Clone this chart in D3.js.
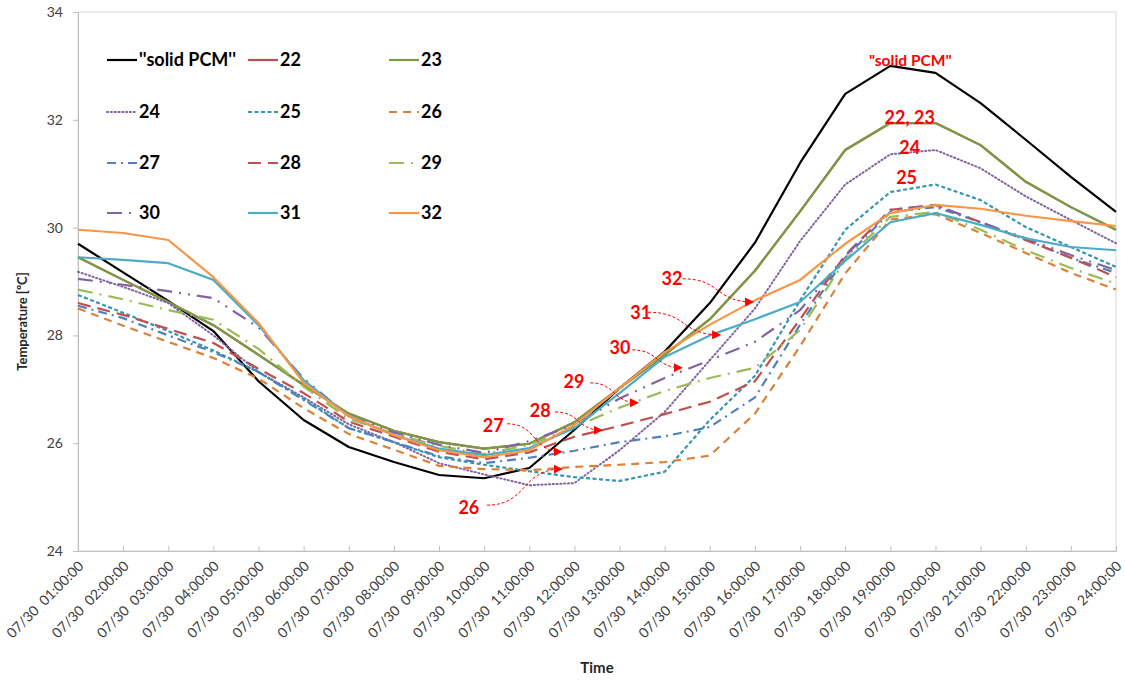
<!DOCTYPE html>
<html>
<head>
<meta charset="utf-8">
<script src="https://cdn.jsdelivr.net/npm/d3@7"></script>
<style>
  html, body { margin: 0; padding: 0; background: #fff; }
  svg { display: block; font-family: Lato, "Open Sans", sans-serif; }
</style>
</head>
<body>
<svg id="chart" width="1125" height="681"></svg>
<script>
// Hourly time stamps on 30 July
const hours = ["01:00:00","02:00:00","03:00:00","04:00:00","05:00:00","06:00:00",
  "07:00:00","08:00:00","09:00:00","10:00:00","11:00:00","12:00:00",
  "13:00:00","14:00:00","15:00:00","16:00:00","17:00:00","18:00:00",
  "19:00:00","20:00:00","21:00:00","22:00:00","23:00:00","24:00:00"];
const dateLabel = "07/30";
const yTicks = [24, 26, 28, 30, 32, 34];

// Temperatures [°C] per case
const solidPCM = [29.70, 29.17, 28.64, 28.08, 27.15, 26.43, 25.93, 25.65, 25.41, 25.35, 25.54, 26.25,
                  27.02, 27.70, 28.60, 29.72, 31.20, 32.48, 33.00, 32.87, 32.31, 31.63, 30.94, 30.29];
const t22 = [29.45, 29.03, 28.62, 28.19, 27.64, 27.08, 26.55, 26.23, 26.02, 25.90, 25.99, 26.39,
             27.02, 27.64, 28.30, 29.20, 30.30, 31.44, 31.94, 31.94, 31.53, 30.85, 30.38, 29.96];
const t23 = [29.45, 29.03, 28.62, 28.19, 27.64, 27.08, 26.55, 26.23, 26.02, 25.90, 25.99, 26.39,
             27.02, 27.64, 28.30, 29.20, 30.30, 31.44, 31.94, 31.94, 31.53, 30.85, 30.38, 29.96];
const t24 = [29.18, 28.90, 28.60, 28.00, 27.32, 26.85, 26.35, 26.02, 25.63, 25.42, 25.22, 25.26,
             25.87, 26.58, 27.54, 28.50, 29.75, 30.80, 31.36, 31.44, 31.10, 30.58, 30.14, 29.71];
const t25 = [28.75, 28.42, 28.08, 27.72, 27.32, 26.82, 26.28, 26.02, 25.74, 25.60, 25.48, 25.37,
             25.30, 25.47, 26.43, 27.25, 28.65, 29.96, 30.66, 30.80, 30.51, 30.01, 29.64, 29.27];
const t26 = [28.50, 28.18, 27.88, 27.58, 27.20, 26.65, 26.17, 25.88, 25.58, 25.52, 25.50, 25.56,
             25.60, 25.65, 25.77, 26.55, 27.80, 29.15, 30.15, 30.25, 29.90, 29.53, 29.16, 28.85];
const t27 = [28.55, 28.32, 28.00, 27.69, 27.32, 26.80, 26.28, 26.02, 25.76, 25.63, 25.73, 25.86,
             26.02, 26.13, 26.30, 26.85, 28.20, 29.44, 30.29, 30.38, 30.10, 29.77, 29.44, 29.16];
const t28 = [28.60, 28.38, 28.12, 27.86, 27.38, 26.93, 26.40, 26.12, 25.84, 25.70, 25.83, 26.12,
             26.32, 26.54, 26.77, 27.15, 28.30, 29.49, 30.33, 30.42, 30.10, 29.77, 29.44, 29.08];
const t29 = [28.85, 28.67, 28.47, 28.29, 27.75, 27.05, 26.45, 26.18, 25.95, 25.80, 25.97, 26.30,
             26.66, 26.97, 27.21, 27.40, 28.10, 29.40, 30.20, 30.29, 29.96, 29.58, 29.25, 28.96];
const t30 = [29.05, 28.94, 28.82, 28.69, 28.15, 27.20, 26.50, 26.20, 25.97, 25.82, 26.04, 26.34,
             26.83, 27.21, 27.54, 27.88, 28.47, 29.47, 30.33, 30.42, 30.10, 29.80, 29.49, 29.21];
const t31 = [29.45, 29.40, 29.34, 29.03, 28.19, 27.17, 26.50, 26.15, 25.90, 25.78, 25.91, 26.28,
             26.93, 27.60, 28.00, 28.30, 28.62, 29.38, 30.10, 30.27, 30.05, 29.80, 29.64, 29.58];
const t32 = [29.96, 29.90, 29.77, 29.08, 28.23, 27.12, 26.50, 26.15, 25.87, 25.74, 25.87, 26.34,
             27.02, 27.69, 28.20, 28.65, 29.03, 29.70, 30.27, 30.42, 30.35, 30.22, 30.12, 30.03];

// Series styling (drawing order = legend order)
const series = [
  { name: "''solid PCM''", values: solidPCM, color: "#000000", dash: null },
  { name: "22", values: t22, color: "#B8504B", dash: null },
  { name: "23", values: t23, color: "#7A9A44", dash: null },
  { name: "24", values: t24, color: "#8064A2", dash: "1.2,2.6", cap: "round" },
  { name: "25", values: t25, color: "#3596B0", dash: "4,2.5" },
  { name: "26", values: t26, color: "#DB8238", dash: "8,6" },
  { name: "27", values: t27, color: "#4F81BD", dash: "9,5,2,5" },
  { name: "28", values: t28, color: "#C0504D", dash: "13,7" },
  { name: "29", values: t29, color: "#9BBB59", dash: "15,7,2,7" },
  { name: "30", values: t30, color: "#8064A2", dash: "15,7,2,7,2,7" },
  { name: "31", values: t31, color: "#4BACC6", dash: null },
  { name: "32", values: t32, color: "#F79646", dash: null }
];

// Annotation labels and pointer arrows (x = hour index, y = temperature)
const peakLabels = [
  { text: "\"solid PCM\"", x: 18.44, y: 33.11, size: 15.5 },
  { text: "22, 23", x: 18.43, y: 32.05, size: 18 },
  { text: "24", x: 18.43, y: 31.49, size: 18 },
  { text: "25", x: 18.36, y: 30.92, size: 18 }
];
const pointerLabels = [
  { text: "32", x: 13.16, y: 29.06, from: [13.40, 29.05], to: [14.96, 28.62] },
  { text: "31", x: 12.47, y: 28.43, from: [12.63, 28.43], to: [14.23, 28.01] },
  { text: "30", x: 12.01, y: 27.78, from: [12.28, 27.73], to: [13.38, 27.40] },
  { text: "29", x: 10.99, y: 27.14, from: [11.35, 27.12], to: [12.41, 26.75] },
  { text: "28", x: 10.24, y: 26.60, from: [10.57, 26.58], to: [11.61, 26.24] },
  { text: "27", x: 9.20,  y: 26.32, from: [9.51, 26.36],  to: [10.72, 25.84] },
  { text: "26", x: 8.66,  y: 24.80, from: [9.06, 24.85],  to: [10.72, 25.52] }
];

const svg = d3.select("#chart");
const plot = { left: 78, right: 1116, top: 12, bottom: 551 };

const x = d3.scalePoint().domain(hours).range([plot.left, plot.right]).padding(0);
const xi = d3.scaleLinear().domain([0, hours.length - 1]).range([plot.left, plot.right]);
const y = d3.scaleLinear().domain([24, 34]).range([plot.bottom, plot.top]);

// Plot-area frame
svg.append("rect")
  .attr("x", plot.left).attr("y", plot.top)
  .attr("width", plot.right - plot.left).attr("height", plot.bottom - plot.top)
  .attr("fill", "none").attr("stroke", "#D9D9D9").attr("stroke-width", 1);

// Y axis
const yAxis = svg.append("g")
  .attr("transform", `translate(${plot.left},0)`)
  .call(d3.axisLeft(y).tickValues(yTicks).tickSize(5).tickPadding(10).tickFormat(d3.format("d")));
yAxis.select(".domain").attr("stroke", "#BFBFBF");
yAxis.selectAll(".tick line").attr("stroke", "#BFBFBF");
yAxis.selectAll(".tick text").attr("fill", "#404040")
  .style("font-size", "14px").style("font-family", "Lato, sans-serif");

// X axis with inward ticks and slanted labels
const xAxis = svg.append("g")
  .attr("transform", `translate(0,${plot.bottom})`)
  .call(d3.axisBottom(x).tickSize(-5).tickFormat(d => `${dateLabel}  ${d}`));
xAxis.select(".domain").attr("stroke", "#BFBFBF");
xAxis.selectAll(".tick line").attr("stroke", "#BFBFBF");
xAxis.selectAll(".tick text")
  .attr("fill", "#404040")
  .style("font-size", "14px").style("font-family", "Lato, sans-serif")
  .style("white-space", "pre")
  .attr("text-anchor", "end")
  .attr("dy", null)
  .attr("y", 0)
  .attr("transform", "translate(6,16) rotate(-45)");

// Axis titles
svg.append("text")
  .attr("x", (plot.left + plot.right) / 2).attr("y", 673)
  .attr("text-anchor", "middle")
  .style("font-size", "15px").style("font-weight", "bold").attr("fill", "#262626")
  .text("Time");
svg.append("text")
  .attr("transform", `translate(27,${(plot.top + plot.bottom) / 2 + 40}) rotate(-90)`)
  .attr("text-anchor", "middle")
  .style("font-size", "13px").style("font-weight", "bold").attr("fill", "#262626")
  .text("Temperature [ºC]");

// Series lines
const line = d3.line().x((d, i) => x(hours[i])).y(d => y(d));
svg.append("g").selectAll("path")
  .data(series)
  .join("path")
  .attr("d", s => line(s.values))
  .attr("fill", "none")
  .attr("stroke", s => s.color)
  .attr("stroke-width", s => s.cap === "round" ? 2 : 2.2)
  .attr("stroke-linecap", s => s.cap || "butt")
  .attr("stroke-linejoin", "round")
  .attr("stroke-dasharray", s => s.dash);

// Legend: 3 columns x 4 rows inside the plot area
const legendCols = [107, 248, 389];
const legendRows = [60, 112, 163, 213];
const legend = svg.append("g").selectAll("g")
  .data(series)
  .join("g")
  .attr("transform", (s, i) => `translate(${legendCols[i % 3]},${legendRows[Math.floor(i / 3)]})`);
legend.append("line")
  .attr("x1", 0).attr("x2", 30).attr("y1", 0).attr("y2", 0)
  .attr("stroke", s => s.color)
  .attr("stroke-width", s => s.cap === "round" ? 2 : 2.2)
  .attr("stroke-linecap", s => s.cap || "butt")
  .attr("stroke-dasharray", s => s.dash);
legend.append("text")
  .attr("x", 32).attr("y", 0).attr("dy", "0.36em")
  .style("font-size", "18px").style("font-weight", "bold").attr("fill", "#000")
  .text(s => s.name);

// Arrowhead marker
svg.append("defs").append("marker")
  .attr("id", "arrowhead")
  .attr("viewBox", "0 0 10 10").attr("refX", 9).attr("refY", 5)
  .attr("markerWidth", 9).attr("markerHeight", 9).attr("markerUnits", "userSpaceOnUse")
  .attr("orient", "auto")
  .append("path").attr("d", "M0,0 L10,5 L0,10 Z").attr("fill", "#FF0000");

// Peak labels
svg.append("g").selectAll("text")
  .data(peakLabels)
  .join("text")
  .attr("x", d => xi(d.x)).attr("y", d => y(d.y)).attr("dy", "0.36em")
  .attr("text-anchor", "middle")
  .style("font-size", d => d.size + "px").style("font-weight", "bold")
  .attr("fill", "#FF0000")
  .text(d => d.text);

// Pointer labels with curved dashed arrows
const pointers = svg.append("g");
pointers.selectAll("path")
  .data(pointerLabels)
  .join("path")
  .attr("d", d => {
    const x0 = xi(d.from[0]), y0 = y(d.from[1]);
    const x1 = xi(d.to[0]), y1 = y(d.to[1]);
    const k = (x1 - x0) * 0.55;
    return `M${x0},${y0} C${x0 + k},${y0} ${x1 - k},${y1} ${x1},${y1}`;
  })
  .attr("fill", "none")
  .attr("stroke", "#FF0000").attr("stroke-width", 1)
  .attr("stroke-dasharray", "3,2")
  .attr("marker-end", "url(#arrowhead)");
pointers.selectAll("text")
  .data(pointerLabels)
  .join("text")
  .attr("x", d => xi(d.x)).attr("y", d => y(d.y)).attr("dy", "0.36em")
  .attr("text-anchor", "middle")
  .style("font-size", "18px").style("font-weight", "bold")
  .attr("fill", "#FF0000")
  .text(d => d.text);
</script>
</body>
</html>
